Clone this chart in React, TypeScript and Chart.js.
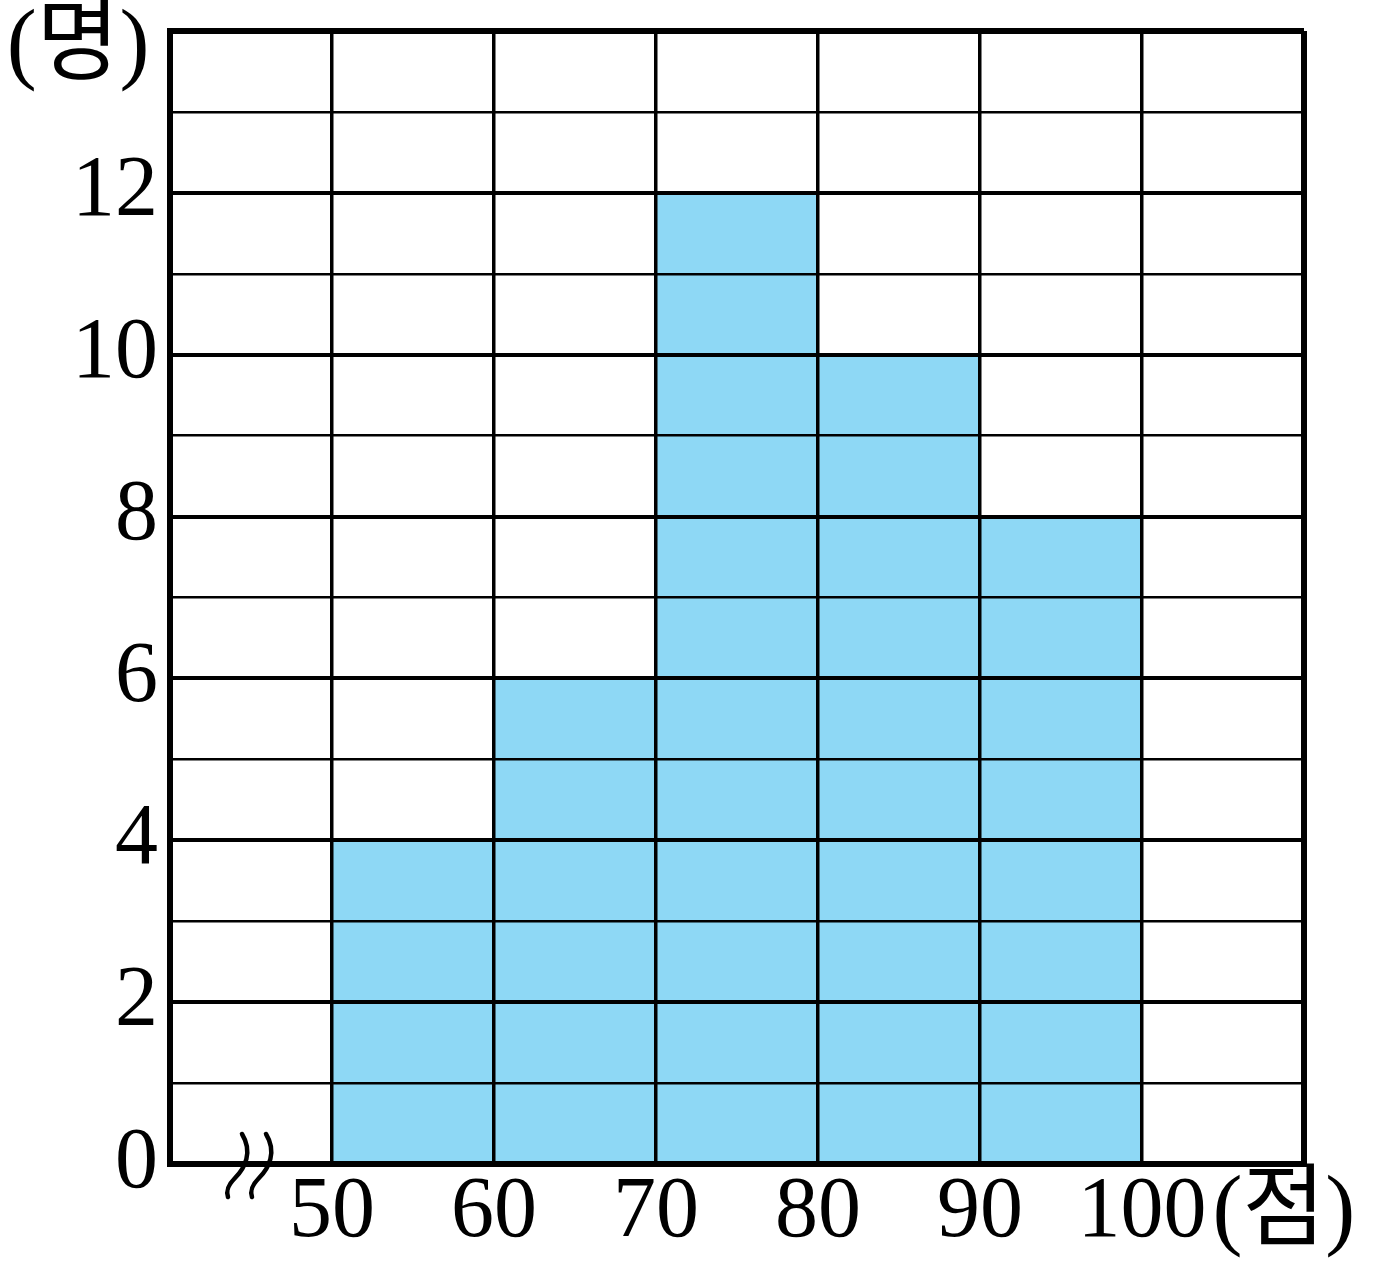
import React, { useEffect, useRef } from "react";
import { Chart, registerables } from "chart.js";

Chart.register(...registerables);

const classStarts = [50, 60, 70, 80, 90];
const counts = [4, 6, 12, 10, 8];
const classWidth = 10;
const xMin = 40;
const xMax = 110;
const yMax = 14;
const xTickLabels = ["50", "60", "70", "80", "90", "100"];
const yTickLabels = ["0", "2", "4", "6", "8", "10", "12"];
const yUnit = "(명)";
const xUnit = "(점)";

const BAR_COLOR = "#8ED8F5";
const FONT_FAMILY = "'Liberation Serif', 'Noto Sans CJK KR', serif";
const FONT_SIZE = 86;

export default function App() {
  const ref = useRef<HTMLCanvasElement | null>(null);

  useEffect(() => {
    if (!ref.current) return;
    const data = classStarts.map((s, i) => ({ x: s + classWidth / 2, y: counts[i] }));

    const annotPlugin = {
      id: "annot",
      afterDraw(chart: any) {
        const ctx = chart.ctx as CanvasRenderingContext2D;
        const xs = chart.scales.x;
        const ys = chart.scales.y;
        ctx.save();
        ctx.fillStyle = "#000";
        ctx.font = `${FONT_SIZE + 4}px ${FONT_FAMILY}`;
        // y unit
        ctx.textAlign = "center";
        ctx.textBaseline = "middle";
        ctx.fillText(yUnit, 78, 48);
        // x unit after last label
        ctx.font = `${FONT_SIZE}px ${FONT_FAMILY}`;
        const last = xTickLabels[xTickLabels.length - 1];
        const lw = ctx.measureText(last).width;
        const lx = xs.getPixelForValue(Number(last)) + lw / 2 + 6;
        ctx.font = `${FONT_SIZE + 4}px ${FONT_FAMILY}`;
        ctx.textAlign = "left";
        ctx.textBaseline = "middle";
        ctx.fillText(xUnit, lx, 1214);
        // break mark
        const by = ys.getPixelForValue(0);
        ctx.strokeStyle = "#000";
        ctx.lineWidth = 4.5;
        ctx.lineCap = "round";
        const drawSquiggle = (cx: number) => {
          ctx.beginPath();
          ctx.moveTo(cx + 9, by - 30);
          ctx.bezierCurveTo(cx + 20, by - 12, cx + 12, by + 4, cx + 2, by + 14);
          ctx.bezierCurveTo(cx - 8, by + 24, cx - 6, by + 30, cx - 5, by + 33);
          ctx.stroke();
        };
        drawSquiggle(233);
        drawSquiggle(257);
        ctx.restore();
      },
    };

    const chart = new Chart(ref.current, {
      type: "bar",
      data: {
        datasets: [
          {
            data,
            backgroundColor: BAR_COLOR,
            borderWidth: 0,
            barPercentage: 1,
            categoryPercentage: 1,
          },
        ],
      },
      options: {
        animation: false,
        responsive: false,
        events: [],
        layout: { padding: { left: 0, right: 72, top: 31, bottom: 0 } },
        plugins: { legend: { display: false }, tooltip: { enabled: false } },
        scales: {
          x: {
            type: "linear",
            min: xMin,
            max: xMax,
            offset: false,
            afterFit(scale: any) {
              scale.height = 103;
            },
            ticks: {
              stepSize: 10,
              autoSkip: false,
              maxRotation: 0,
              color: "#000",
              padding: -2,
              z: 3,
              font: { family: FONT_FAMILY, size: FONT_SIZE, lineHeight: 1.2 },
              callback: (v: any) => (xTickLabels.includes(String(v)) ? String(v) : ""),
            },
            grid: {
              offset: false,
              z: 1,
              color: "#000",
              drawTicks: false,
              lineWidth: (c: any) => (c.tick && (c.tick.value === xMax || c.tick.value === xMin) ? 6 : 3.5),
            },
            border: { display: true, color: "#000", width: 6, z: 2 },
          },
          y: {
            type: "linear",
            min: 0,
            max: yMax,
            afterFit(scale: any) {
              scale.width = 170;
            },
            ticks: {
              stepSize: 1,
              autoSkip: false,
              color: "#000",
              padding: 12,
              z: 3,
              font: { family: FONT_FAMILY, size: FONT_SIZE, lineHeight: 0.2 },
              callback: (v: any) => (yTickLabels.includes(String(v)) ? String(v) : ""),
            },
            grid: {
              z: 1,
              color: "#000",
              drawTicks: false,
              lineWidth: (c: any) => {
                const v = c.tick ? c.tick.value : 0;
                if (v === yMax || v === 0) return 6;
                return v % 2 === 0 ? 4 : 2.5;
              },
            },
            border: { display: true, color: "#000", width: 6, z: 2 },
          },
        },
      },
      plugins: [annotPlugin],
    });
    return () => chart.destroy();
  }, []);

  return (
    <canvas
      ref={ref}
      width={1376}
      height={1267}
      style={{ position: "absolute", left: 0, top: 0, display: "block", background: "#fff" }}
    />
  );
}
